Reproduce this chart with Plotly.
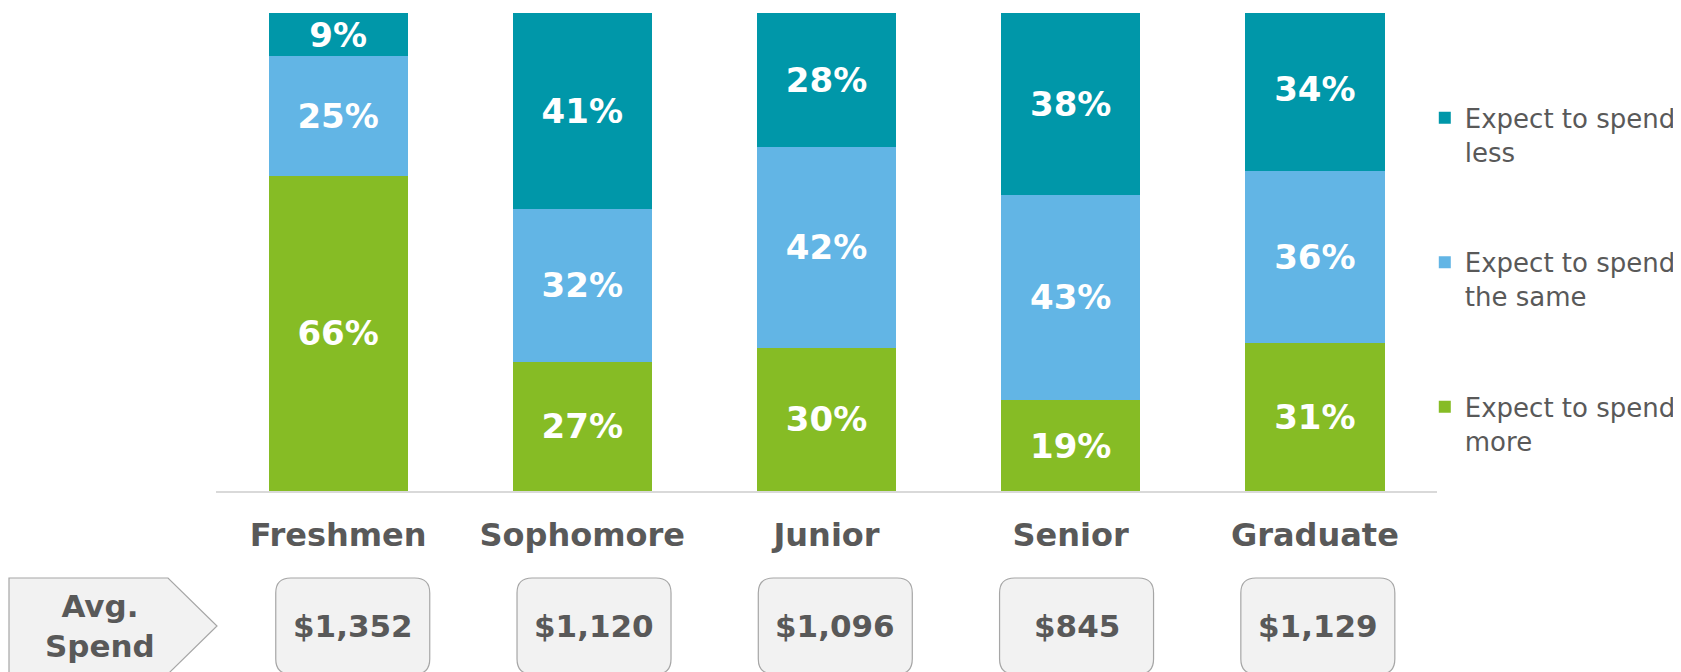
"""Spending expectations by class year, stacked bar with avg spend row."""

import plotly.graph_objects as go

CLASSES = ["Freshmen", "Sophomore", "Junior", "Senior", "Graduate"]
SPEND_MORE = [66, 27, 30, 19, 31]
SPEND_SAME = [25, 32, 42, 43, 36]
SPEND_LESS = [9, 41, 28, 38, 34]
AVG_SPEND = ["$1,352", "$1,120", "$1,096", "$845", "$1,129"]

# bottom of stack first; legend rank puts "less" on top
SERIES = [
    ("Expect to spend<br>more", SPEND_MORE, "#86BC25", 3),
    ("Expect to spend<br>the same", SPEND_SAME, "#62B5E5", 2),
    ("Expect to spend<br>less", SPEND_LESS, "#0097A9", 1),
]

GRAY = "#595959"
FONT = "DejaVu Sans"

fig = go.Figure()
for name, vals, color, rank in SERIES:
    fig.add_trace(
        go.Bar(
            x=CLASSES,
            y=vals,
            name=name,
            legendgroup=name,
            legendrank=rank,
            marker=dict(color=color, line=dict(width=0)),
            text=[f"{v}%" for v in vals],
            textposition="inside",
            insidetextanchor="middle",
            textfont=dict(family=FONT, size=34, color="white", weight="bold"),
            hoverinfo="skip",
        )
    )

# rounded box centred on its anchor, in pixels
w, h, r = 77, 48, 15
box_path = (
    f"M{-w + r},{-h} L{w - r},{-h} Q{w},{-h} {w},{-h + r} L{w},{h - r} "
    f"Q{w},{h} {w - r},{h} L{-w + r},{h} Q{-w},{h} {-w},{h - r} "
    f"L{-w},{-h + r} Q{-w},{-h} {-w + r},{-h} Z"
)
row_y = -0.2824

shapes = []
annotations = []
for i, label in enumerate(AVG_SPEND):
    cx = 0.06 + i * 0.988
    shapes.append(
        dict(
            type="path", xref="x", yref="paper", xsizemode="pixel", ysizemode="pixel",
            xanchor=cx, yanchor=row_y, path=box_path,
            fillcolor="#F2F2F2", line=dict(color="#A6A6A6", width=1.2), layer="below",
        )
    )
    annotations.append(
        dict(
            x=cx, y=row_y, xref="x", yref="paper", text=label, showarrow=False,
            xanchor="center", yanchor="middle",
            font=dict(family=FONT, size=31, color=GRAY, weight="bold"),
        )
    )

# arrow-shaped label on the left
shapes.append(
    dict(
        type="path", xref="paper", yref="paper", xsizemode="pixel", ysizemode="pixel",
        xanchor=0, yanchor=row_y,
        path="M-207,-48 L-48,-48 L1,0 L-48,48 L-207,48 Z",
        fillcolor="#F2F2F2", line=dict(color="#A6A6A6", width=1.2), layer="below",
    )
)
annotations.append(
    dict(
        x=-0.095, y=row_y, xref="paper", yref="paper", text="Avg.<br>Spend",
        showarrow=False, xanchor="center", yanchor="middle",
        font=dict(family=FONT, size=31, color=GRAY, weight="bold"),
    )
)

fig.update_layout(
    barmode="stack",
    bargap=0.43,
    width=1681,
    height=672,
    margin=dict(l=208, r=252, t=5, b=189),
    plot_bgcolor="white",
    paper_bgcolor="white",
    font=dict(family=FONT, color=GRAY),
    uniformtext=dict(minsize=34, mode="show"),
    legend=dict(
        x=0.99, y=0.83, xanchor="left", yanchor="top",
        traceorder="grouped", tracegroupgap=74, valign="top",
        font=dict(family=FONT, size=26, color=GRAY),
    ),
    shapes=shapes,
    annotations=annotations,
)
fig.update_xaxes(
    categoryorder="array", categoryarray=CLASSES,
    showline=True, linecolor="#D9D9D9", linewidth=2,
    ticks="outside", ticklen=15, tickcolor="rgba(0,0,0,0)",
    tickfont=dict(family=FONT, size=32, color=GRAY, weight="bold"),
    showgrid=False, zeroline=False,
)
fig.update_yaxes(range=[0, 100], visible=False, showgrid=False, zeroline=False)

fig.write_html("out.html")
